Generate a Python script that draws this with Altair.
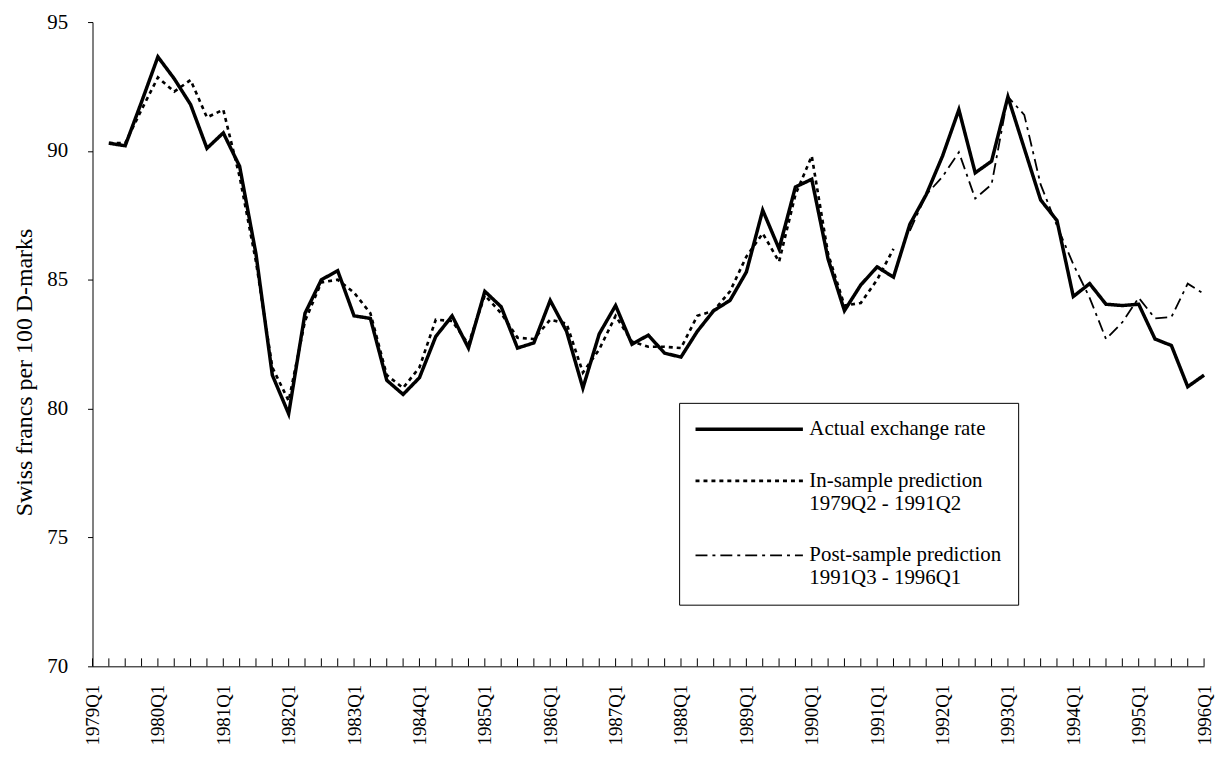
import altair as alt
import pandas as pd

# Quarter categories 1979Q1 .. 1996Q1
quarters = [f"{y}Q{q}" for y in range(1979, 1997) for q in range(1, 5)][:69]
q1_labels = [q for q in quarters if q.endswith("Q1")]

# Actual exchange rate, 1979Q2 - 1996Q1
actual = [
    90.3, 90.2, 91.9,
    93.65, 92.8, 91.8, 90.1,
    90.7, 89.4, 86.0, 81.3,
    79.8, 83.7, 85.0, 85.35,
    83.6, 83.5, 81.1, 80.55,
    81.2, 82.8, 83.6, 82.35,
    84.55, 83.95, 82.35, 82.55,
    84.2, 83.0, 80.8, 82.9,
    84.0, 82.5, 82.85, 82.15,
    82.0, 83.0, 83.8, 84.2,
    85.3, 87.7, 86.2, 88.6,
    88.9, 85.8, 83.8, 84.8,
    85.5, 85.1, 87.15, 88.3,
    89.8, 91.6, 89.15, 89.6,
    92.1, 90.1, 88.1, 87.3,
    84.35, 84.85, 84.05, 84.0,
    84.05, 82.7, 82.45, 80.85,
    81.3,
]

# In-sample prediction, 1979Q2 - 1991Q2
in_sample = [
    90.3, 90.3, 91.6,
    92.85, 92.3, 92.75, 91.3,
    91.6, 89.0, 85.7, 81.6,
    80.3, 83.4, 84.9, 85.0,
    84.5, 83.7, 81.3, 80.8,
    81.6, 83.45, 83.4, 82.5,
    84.4, 83.7, 82.75, 82.7,
    83.45, 83.3, 81.4, 82.3,
    83.6, 82.6, 82.4, 82.4,
    82.35, 83.6, 83.8, 84.55,
    85.9, 86.8, 85.7, 88.3,
    89.8, 86.0, 84.0, 84.1,
    85.0, 86.2,
]

# Post-sample prediction, 1991Q3 - 1996Q1
post_sample = [
    86.9, 88.3,
    89.0, 89.95, 88.15, 88.7,
    92.1, 91.4, 88.7, 87.1,
    85.6, 84.3, 82.7, 83.35,
    84.3, 83.5, 83.55, 84.85,
    84.45,
]

# "|" marks a line break in the legend label
series_names = [
    "Actual exchange rate",
    "In-sample prediction|1979Q2 - 1991Q2",
    "Post-sample prediction|1991Q3 - 1996Q1",
]

rows = []
for name, qs, vals in [
    (series_names[0], quarters[1:], actual),
    (series_names[1], quarters[1:50], in_sample),
    (series_names[2], quarters[50:69], post_sample),
]:
    for i, (q, v) in enumerate(zip(qs, vals)):
        rows.append({"series": name, "quarter": q, "value": v, "idx": i})
df = pd.DataFrame(rows)
tick_df = pd.DataFrame({"quarter": quarters})

FONT = "Liberation Serif"
x_scale = alt.Scale(domain=quarters, type="point", padding=0)

x_axis = alt.Axis(
    title=None,
    values=q1_labels,
    labelAngle=270,
    labelAlign="right",
    labelBaseline="middle",
    labelFont=FONT,
    labelFontSize=19,
    labelColor="black",
    labelPadding=18,
    labelOverlap=False,
    labelBound=False,
    labelFlush=False,
    ticks=False,
    domainColor="black",
    grid=False,
)

legend = alt.Legend(
    title=None,
    orient="none",
    legendX=590,
    legendY=383,
    symbolType="M0,0H20",
    symbolSize=116.64,
    symbolOffset=-10,
    symbolStrokeColor="black",
    symbolFillColor="transparent",
    labelFont=FONT,
    labelFontSize=21,
    labelColor="black",
    labelExpr="split(datum.label, '|')",
    labelOffset=104,
    labelLimit=400,
    strokeColor="black",
    fillColor="white",
    padding=16,
    rowPadding=30,
)

lines = alt.Chart(df).mark_line(color="black", strokeJoin="miter").encode(
    x=alt.X("quarter:O", scale=x_scale, axis=x_axis),
    y=alt.Y(
        "value:Q",
        scale=alt.Scale(domain=[70, 95], nice=False, zero=False),
        axis=alt.Axis(
            title="Swiss francs per 100 D-marks",
            titleFont=FONT,
            titleFontSize=24,
            titleFontWeight="normal",
            titleColor="black",
            titlePadding=10,
            titleY=352,
            values=[70, 75, 80, 85, 90, 95],
            labelFont=FONT,
            labelFontSize=21,
            labelColor="black",
            labelPadding=20,
            tickSize=5,
            tickColor="black",
            domainColor="black",
            grid=False,
        ),
    ),
    strokeDash=alt.StrokeDash(
        "series:N",
        scale=alt.Scale(domain=series_names, range=[[1, 0], [4, 4], [12, 5, 3, 5]]),
        legend=legend,
    ),
    strokeWidth=alt.StrokeWidth(
        "series:N",
        scale=alt.Scale(domain=series_names, range=[3.5, 1.8, 1.8]),
        legend=legend,
    ),
    order=alt.Order("idx:Q"),
)

ticks = alt.Chart(tick_df).mark_rule(color="black", strokeWidth=1).encode(
    x=alt.X("quarter:O", scale=x_scale, axis=x_axis),
    y=alt.value(648),
    y2=alt.value(640),
)

chart = (
    alt.layer(ticks, lines)
    .properties(
        width=1118,
        height=648,
        padding={"left": 85, "top": 12, "right": 13, "bottom": 78},
        autosize=alt.AutoSizeParams(type="none"),
        background="white",
    )
    .configure_view(stroke=None)
)

chart.save("out.html", embed_options={"renderer": "svg", "actions": False})
